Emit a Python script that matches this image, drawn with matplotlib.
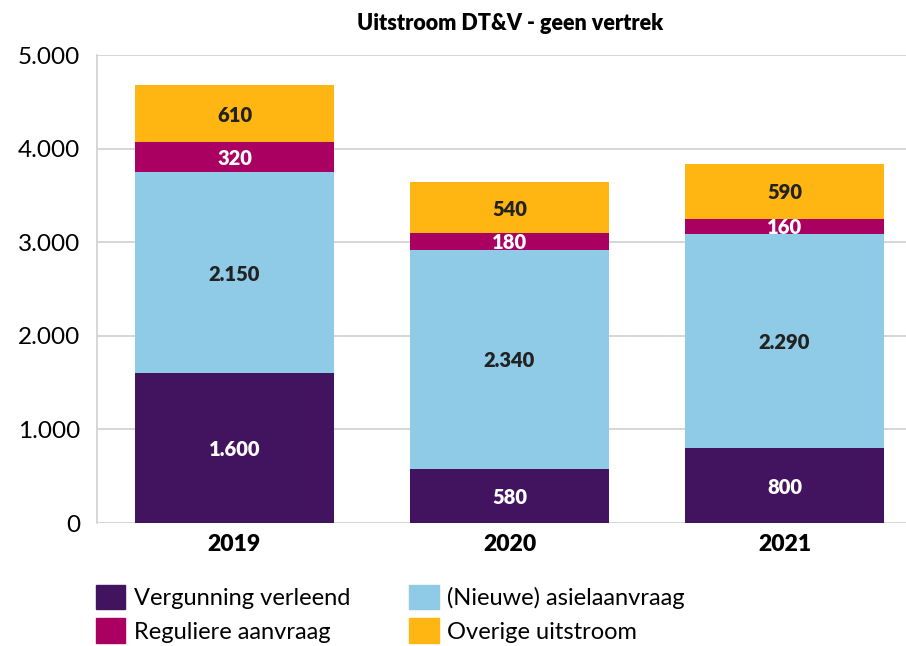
import matplotlib

matplotlib.use("Agg")
import matplotlib.pyplot as plt
from matplotlib.patches import Patch
import numpy as np

plt.rcParams["font.family"] = ["Lato", "DejaVu Sans"]

years = ["2019", "2020", "2021"]
vergunning = [1600, 580, 800]
asiel = [2150, 2340, 2290]
regulier = [320, 180, 160]
overig = [610, 540, 590]

series = [
    ("Vergunning verleend", vergunning, "#42145F", "white"),
    ("(Nieuwe) asielaanvraag", asiel, "#8FCAE7", "#222222"),
    ("Reguliere aanvraag", regulier, "#A90061", "white"),
    ("Overige uitstroom", overig, "#FFB612", "#222222"),
]


def fmt(v):
    return f"{v:,}".replace(",", ".")


fig = plt.figure(figsize=(9.06, 6.46), dpi=100)
ax = fig.add_axes([97 / 906, 1 - 523 / 646, 1 - 97 / 906, (523 - 55) / 646])

x = np.arange(len(years))
bottom = np.zeros(len(years))
for name, vals, color, tcolor in series:
    vals = np.array(vals)
    ax.bar(x, vals, width=0.725, bottom=bottom, color=color, zorder=3)
    for xi, b, v in zip(x, bottom, vals):
        ax.text(xi, b + v / 2, fmt(v), ha="center", va="center_baseline",
                fontsize=14.5, fontweight="heavy", color=tcolor, zorder=4)
    bottom += vals

ax.set_ylim(0, 5000)
ax.set_xlim(-0.5, (906 - 234.5) / 275)
ax.set_yticks(range(0, 5001, 1000))
ax.set_yticklabels([fmt(v) for v in range(0, 5001, 1000)], fontsize=17.5)
ax.set_xticks(x)
ax.set_xticklabels(years, fontsize=16.5, fontweight="heavy")
ax.tick_params(length=0, pad=12)
ax.tick_params(axis="x", pad=8)
ax.grid(axis="y", color="#D0D0D0", linewidth=1.2, zorder=0)
for s in ["top", "right", "bottom"]:
    ax.spines[s].set_visible(False)
ax.spines["left"].set_color("#D0D0D0")
ax.spines["left"].set_linewidth(1.2)

fig.text(510 / 906, 1 - 23 / 646, "Uitstroom DT&V - geen vertrek",
         ha="center", va="center", fontsize=15.5, fontweight="heavy")

handles = [Patch(color=c, label=n) for n, _, c, _ in series]
order = [0, 2, 1, 3]
fig.legend([handles[i] for i in order], [series[i][0] for i in order],
           ncol=2, loc="upper left", bbox_to_anchor=(84 / 906, 1 - 573 / 646),
           frameon=False, fontsize=17, handlelength=1.25, handleheight=1.2,
           handletextpad=0.35, columnspacing=2.5, labelspacing=0.4, borderpad=0)

fig.savefig("out.png", dpi=100)
